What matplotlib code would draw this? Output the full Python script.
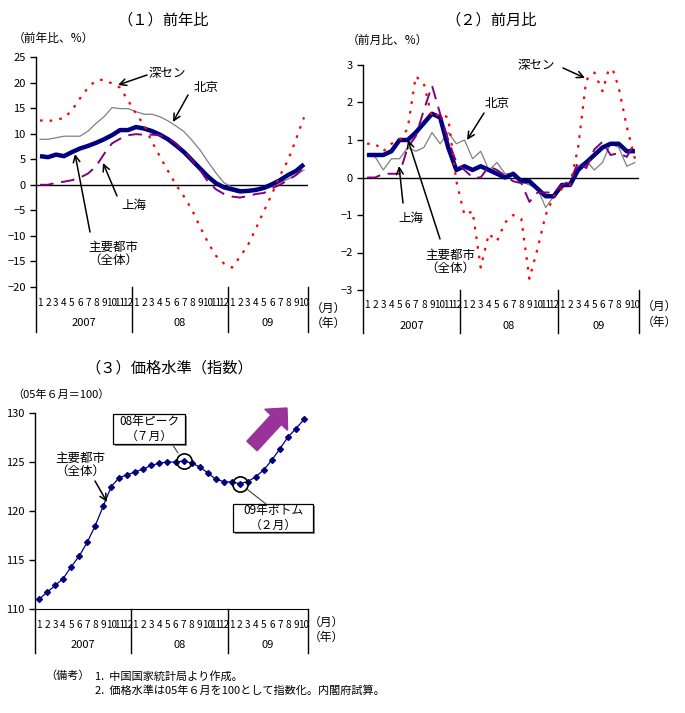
import matplotlib
matplotlib.use("Agg")
import matplotlib.pyplot as plt
import matplotlib.patches as mpatches
import matplotlib.transforms as mtrans
import numpy as np

plt.rcParams['font.family'] = ['Noto Sans CJK JP', 'DejaVu Sans']

# ---------------- data ----------------
months = [1, 2, 3, 4, 5, 6, 7, 8, 9, 10, 11, 12,
          1, 2, 3, 4, 5, 6, 7, 8, 9, 10, 11, 12,
          1, 2, 3, 4, 5, 6, 7, 8, 9, 10]
year_labels = ["2007", "08", "09"]
year_spans = [(0, 11), (12, 23), (24, 33)]

# (1) year-on-year, %
yoy_total = [5.6, 5.4, 5.9, 5.6, 6.4, 7.1, 7.6, 8.2, 8.9, 9.7, 10.7, 10.7,
             11.3, 11.0, 10.5, 9.8, 8.9, 7.7, 6.4, 4.8, 3.2, 1.6, 0.3, -0.5,
             -0.9, -1.3, -1.2, -1.0, -0.6, 0.1, 0.9, 1.9, 2.7, 4.0]
yoy_shenzhen = [12.6, 12.4, 12.8, 13.0, 14.6, 16.9, 19.0, 20.4, 20.6, 19.8, 19.0, 16.5,
                13.9, 11.7, 8.4, 5.5, 2.7, 0.0, -2.3, -4.9, -8.2, -11.3, -13.9, -15.4,
                -16.2, -14.1, -11.8, -8.5, -5.1, -1.8, 1.8, 4.8, 8.9, 13.2]
yoy_beijing = [8.9, 8.9, 9.2, 9.5, 9.5, 9.5, 10.5, 12.0, 13.3, 15.1, 14.9, 14.9,
               14.3, 13.8, 13.8, 13.3, 12.5, 11.5, 10.4, 8.7, 6.8, 4.5, 2.3, 0.4,
               -0.5, -0.9, -1.0, -1.0, -0.9, -0.4, 0.4, 1.1, 1.9, 2.9]
yoy_shanghai = [0.0, 0.0, 0.4, 0.6, 0.9, 1.4, 2.2, 3.6, 6.0, 8.1, 9.0, 9.7,
                9.9, 9.8, 9.8, 9.7, 9.2, 8.1, 6.6, 4.8, 2.9, 0.6, -0.9, -1.8,
                -2.3, -2.5, -2.2, -1.8, -1.6, -0.7, 0.0, 0.9, 1.9, 3.5]

# (2) month-on-month, %
mom_total = [0.6, 0.6, 0.6, 0.7, 1.0, 1.0, 1.2, 1.45, 1.7, 1.6, 0.8, 0.2,
             0.3, 0.2, 0.3, 0.2, 0.1, 0.0, 0.1, -0.1, -0.1, -0.3, -0.5, -0.5,
             -0.2, -0.2, 0.2, 0.4, 0.6, 0.8, 0.9, 0.9, 0.7, 0.7]
mom_shenzhen = [0.9, 0.9, 0.7, 0.9, 1.0, 1.3, 2.7, 2.5, 1.6, 1.7, 1.6, -0.1,
                -1.0, -0.9, -2.4, -1.5, -1.7, -1.2, -1.0, -1.1, -2.7, -1.9, -1.0, -0.5,
                -0.3, -0.2, 0.8, 2.6, 2.8, 2.3, 3.05, 2.4, 1.35, 0.5]
mom_beijing = [0.6, 0.55, 0.2, 0.5, 0.5, 0.8, 0.7, 0.8, 1.2, 0.9, 1.2, 0.9,
               1.0, 0.5, 0.7, 0.2, 0.4, 0.1, 0.1, -0.1, -0.2, -0.3, -0.8, -0.5,
               -0.3, -0.1, 0.3, 0.45, 0.2, 0.4, 0.9, 0.8, 0.3, 0.4]
mom_shanghai = [0.0, 0.0, 0.1, 0.1, 0.1, 0.8, 1.1, 1.8, 2.45, 1.7, 1.0, 0.4,
                0.2, 0.0, 0.0, 0.3, 0.2, 0.05, -0.1, -0.15, -0.65, -0.4, -0.4, -0.4,
                -0.2, -0.1, 0.4, 0.25, 0.75, 0.95, 0.6, 0.65, 0.55, 0.95]

# (3) price level index (June 2005 = 100)
index_level = [111.0, 111.7, 112.4, 113.1, 114.3, 115.4, 116.8, 118.5, 120.5, 122.5, 123.4, 123.7,
               124.0, 124.3, 124.65, 124.9, 125.0, 125.0, 125.1, 124.9, 124.5, 123.9, 123.25, 123.0,
               122.95, 122.8, 123.0, 123.5, 124.2, 125.2, 126.35, 127.55, 128.4, 129.35]
peak_idx = 18     # 2008 Jul
bottom_idx = 25   # 2009 Feb

W, H = 685, 713
fig = plt.figure(figsize=(W / 100, H / 100), dpi=100)


def rect(l, r, t, b):
    return [l / W, 1 - b / H, (r - l) / W, (b - t) / H]


def P(x, y):
    return (x / W, 1 - y / H)


def category_axis(ax, top_px, bot_px, month_y, year_y, line_bot):
    h = bot_px - top_px
    tr = mtrans.blended_transform_factory(ax.transData, ax.transAxes)
    ax.set_xticks([])
    xs = np.arange(len(months))
    for xx, m in zip(xs, months):
        ax.text(xx, (bot_px - month_y) / h, str(m), transform=tr, ha='center', va='center',
                fontsize=7.2)
    for lab, (a, b) in zip(year_labels, year_spans):
        ax.text((a + b) / 2, (bot_px - year_y) / h, lab,
                transform=tr, ha='center', va='center', fontsize=8)
    yb = (bot_px - line_bot) / h
    for sx in [-0.5, 11.5, 23.5, len(months) - 0.5]:
        ax.plot([sx, sx], [0, yb], transform=tr, color='black', lw=1, clip_on=False)


def style_axes(ax):
    for s in ['top', 'right', 'bottom']:
        ax.spines[s].set_visible(False)
    ax.spines['left'].set_linewidth(1)
    ax.tick_params(axis='y', direction='out', length=4, labelsize=8, width=1)
    ax.set_xlim(-0.5, len(months) - 0.5)


x = np.arange(len(months))
navy = '#000080'
red = '#FF0000'
gray = '#808080'
purple = '#800080'

# ---------------- panel 1 ----------------
ax1 = fig.add_axes(rect(36, 308, 57, 287))
style_axes(ax1)
ax1.set_ylim(-20, 25)
ax1.set_yticks(np.arange(-20, 26, 5))
ax1.axhline(0, color='black', lw=1)
ax1.plot(x, yoy_beijing, color=gray, lw=0.9)
ax1.plot(x, yoy_total, color=navy, lw=3.2, solid_capstyle='butt')
ax1.plot(x, yoy_shanghai, color=purple, lw=1.4, ls=(0, (7, 4)))
ax1.plot(x, yoy_shenzhen, color=red, lw=1.6, ls=(0, (1.2, 3.2)))
category_axis(ax1, 57, 287, 303, 323, 332)

fig.text(*P(163, 20), '（１）前年比', ha='center', va='center', fontsize=11)
fig.text(*P(13, 38), '（前年比、%）', ha='left', va='center', fontsize=8.5)
fig.text(*P(328, 308), '（月）', ha='center', va='center', fontsize=8.5)
fig.text(*P(328, 323), '（年）', ha='center', va='center', fontsize=8.5)

arrow_kw = dict(arrowstyle='->', color='black', lw=1.1, shrinkA=0, shrinkB=0,
                mutation_scale=12)


def farrow(x0, y0, x1, y1):
    fig.add_artist(mpatches.FancyArrowPatch(P(x0, y0), P(x1, y1), transform=fig.transFigure,
                                            **arrow_kw))


fig.text(*P(167, 73), '深セン', ha='center', va='center', fontsize=9)
farrow(147, 75, 118, 85)
fig.text(*P(206, 87), '北京', ha='center', va='center', fontsize=9)
farrow(188, 95, 173, 122)
fig.text(*P(134, 205), '上海', ha='center', va='center', fontsize=9)
farrow(117, 196, 103, 163)
fig.text(*P(113, 254), '主要都市\n（全体）', ha='center', va='center', fontsize=9,
         linespacing=1.05)
farrow(90, 232, 75, 154)

# ---------------- panel 2 ----------------
ax2 = fig.add_axes(rect(363, 639, 65, 290))
style_axes(ax2)
ax2.set_ylim(-3, 3)
ax2.set_yticks(np.arange(-3, 4, 1))
ax2.axhline(0, color='black', lw=1)
ax2.plot(x, mom_beijing, color=gray, lw=0.9)
ax2.plot(x, mom_total, color=navy, lw=3.2, solid_capstyle='butt')
ax2.plot(x, mom_shanghai, color=purple, lw=1.4, ls=(0, (7, 4)))
ax2.plot(x, mom_shenzhen, color=red, lw=1.6, ls=(0, (1.2, 3.2)))
category_axis(ax2, 65, 290, 305, 326, 333)

fig.text(*P(491, 20), '（２）前月比', ha='center', va='center', fontsize=11)
fig.text(*P(347, 40), '（前月比、%）', ha='left', va='center', fontsize=8.5)
fig.text(*P(659, 306), '（月）', ha='center', va='center', fontsize=8.5)
fig.text(*P(659, 322), '（年）', ha='center', va='center', fontsize=8.5)

fig.text(*P(536, 66), '深セン', ha='center', va='center', fontsize=9)
farrow(563, 68, 585, 78)
fig.text(*P(497, 103), '北京', ha='center', va='center', fontsize=9)
farrow(484, 113, 467, 140)
fig.text(*P(411, 218), '上海', ha='center', va='center', fontsize=9)
farrow(403, 203, 399, 166)
fig.text(*P(450, 262), '主要都市\n（全体）', ha='center', va='center', fontsize=9,
         linespacing=1.05)
farrow(440, 239, 408, 140)

# ---------------- panel 3 ----------------
ax3 = fig.add_axes(rect(35, 308, 413, 609))
style_axes(ax3)
ax3.spines['bottom'].set_visible(True)
ax3.set_ylim(110, 130)
ax3.set_yticks(np.arange(110, 131, 5))
ax3.plot(x, index_level, color=navy, lw=0.9, marker='D', markersize=3.0,
         markerfacecolor=navy, markeredgecolor=navy)
ax3.plot([peak_idx, bottom_idx], [index_level[peak_idx], index_level[bottom_idx]],
         ls='none', marker='o', markersize=11, markerfacecolor='none',
         markeredgecolor='black', markeredgewidth=1.2)
category_axis(ax3, 413, 609, 625, 645, 653)

fig.text(*P(169, 368), '（３）価格水準（指数）', ha='center', va='center', fontsize=11)
fig.text(*P(12, 395), '（05年６月＝100）', ha='left', va='center', fontsize=8)
fig.text(*P(326, 622), '（月）', ha='center', va='center', fontsize=8.5)
fig.text(*P(326, 637), '（年）', ha='center', va='center', fontsize=8.5)

fig.text(*P(80, 465), '主要都市\n（全体）', ha='center', va='center', fontsize=9,
         linespacing=1.05)
farrow(95, 481, 107, 502)


def callout(text, xi, yv, l, t, r, b, start):
    # shadow + box drawn as patches in figure pixels
    w, h = (r - l) / W, (b - t) / H
    fig.add_artist(mpatches.Rectangle(P(l + 2, b + 2), w, h, transform=fig.transFigure,
                                      facecolor='#8c8c8c', edgecolor='none', zorder=4))
    fig.add_artist(mpatches.Rectangle(P(l, b), w, h, transform=fig.transFigure,
                                      facecolor='white', edgecolor='black', lw=0.9, zorder=5))
    fig.text(*P((l + r) / 2, (t + b) / 2), text, ha='center', va='center', fontsize=8.5,
             linespacing=1.15, zorder=6)
    ax3.annotate('', xy=(xi, yv), xycoords='data', xytext=P(*start),
                 textcoords='figure fraction', annotation_clip=False,
                 arrowprops=dict(arrowstyle='-', color='#404040', lw=0.8, shrinkA=0, shrinkB=7))


callout('08年ピーク\n（７月）', peak_idx, index_level[peak_idx], 113, 414, 185, 444, (172, 444))
callout('09年ボトム\n（２月）', bottom_idx, index_level[bottom_idx], 233, 504, 313, 532, (266, 504))

# big purple arrow
x0, y0 = 252 / 100, (H - 446) / 100
x1, y1 = 287 / 100, (H - 408) / 100
fig.add_artist(mpatches.FancyArrow(x0, y0, x1 - x0, y1 - y0, width=0.14, head_width=0.31,
                                   head_length=0.16, length_includes_head=True,
                                   color='#993399', transform=fig.dpi_scale_trans))

# ---------------- notes ----------------
fig.text(*P(45, 676), '（備考）', ha='left', va='center', fontsize=8)
fig.text(*P(95, 676), '1.  中国国家統計局より作成。', ha='left', va='center', fontsize=8)
fig.text(*P(95, 691), '2.  価格水準は05年６月を100として指数化。内閣府試算。', ha='left',
         va='center', fontsize=8)

fig.savefig('out.png', dpi=100)
